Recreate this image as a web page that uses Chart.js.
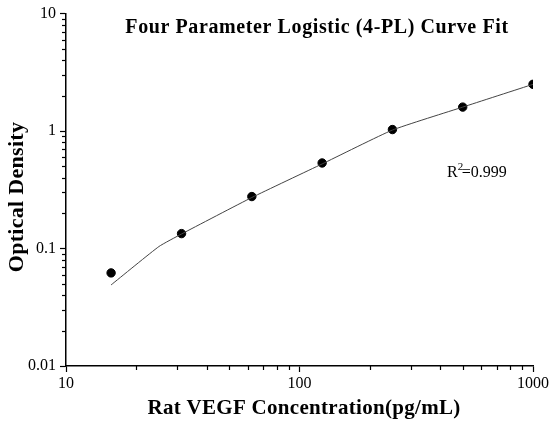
<!DOCTYPE html>
<html>
<head>
<meta charset="utf-8">
<script src="https://cdn.jsdelivr.net/npm/chart.js@4.4.1/dist/chart.umd.min.js"></script>
<style>
  html, body { margin: 0; padding: 0; background: #fff; }
  #wrap { width: 552px; height: 423px; }
</style>
</head>
<body>
<div id="wrap"><canvas id="myChart"></canvas></div>
<script>
// Standards (pg/mL) and measured OD
const concentrations = [15.6, 31.25, 62.5, 125, 250, 500, 1000];
const odValues = [0.062, 0.134, 0.277, 0.535, 1.03, 1.6, 2.5];

// Fitted 4-PL curve
const curveX = [15.6, 25, 31.25, 62.5, 125, 250, 500, 1000];
const curveY = [0.049, 0.104, 0.133, 0.272, 0.525, 1.02, 1.6, 2.5];

// Axis ranges and labelled ticks
const xTicks = [10, 100, 1000];
const yTicks = [0.01, 0.1, 1, 10];

const serif = '"Liberation Serif", "Times New Roman", serif';

// Minor ticks between decades (1..9 x 10^n)
function minorValues(min, max) {
    let out = [];
    for (let e = Math.floor(Math.log10(min)); e < Math.ceil(Math.log10(max)); e++) {
        for (let s = 2; s <= 9; s++) {
            let v = s * Math.pow(10, e);
            if (v > min && v < max) out.push(v);
        }
    }
    return out;
}

// Draw minor ticks, titles and R^2 text
const extras = {
    id: 'extras',
    afterDraw(chart) {
        const c = chart.ctx;
        const x = chart.scales.x, y = chart.scales.y;
        const area = chart.chartArea;
        c.save();
        c.strokeStyle = '#000';
        c.lineWidth = 1.2;
        minorValues(x.min, x.max).forEach(v => {
            let px = Math.round(x.getPixelForValue(v)) + 0.5;
            c.beginPath(); c.moveTo(px, area.bottom); c.lineTo(px, area.bottom + 4); c.stroke();
        });
        minorValues(y.min, y.max).forEach(v => {
            let py = Math.round(y.getPixelForValue(v)) + 0.5;
            c.beginPath(); c.moveTo(area.left, py); c.lineTo(area.left - 4, py); c.stroke();
        });

        c.fillStyle = '#000';
        c.textAlign = 'center';
        c.textBaseline = 'middle';

        // chart title
        c.font = 'bold 20px ' + serif;
        c.letterSpacing = '0.6px';
        c.fillText('Four Parameter Logistic (4-PL) Curve Fit', 317, 28);

        // x axis title
        c.font = 'bold 21px ' + serif;
        c.letterSpacing = '0.3px';
        c.fillText('Rat VEGF Concentration(pg/mL)', 304, 409);

        // y axis title
        c.save();
        c.translate(17, 197);
        c.rotate(-Math.PI / 2);
        c.font = 'bold 22px ' + serif;
        c.letterSpacing = '0.3px';
        c.fillText('Optical Density', 0, 0);
        c.restore();
        c.letterSpacing = '0px';

        // R^2
        c.textAlign = 'left';
        c.textBaseline = 'alphabetic';
        c.font = '16px ' + serif;
        let rx = 447, ry = 177;
        c.fillText('R', rx, ry);
        let w = c.measureText('R').width;
        c.font = '11px ' + serif;
        c.fillText('2', rx + w, ry - 7);
        c.font = '16px ' + serif;
        c.fillText('=0.999', rx + w + 4, ry);
        c.restore();
    }
};

const ctx = document.getElementById('myChart').getContext('2d');
const myChart = new Chart(ctx, {
    type: 'scatter',
    data: {
        datasets: [
            {
                label: 'curve',
                data: curveX.map((v, i) => ({ x: v, y: curveY[i] })),
                showLine: true,
                borderColor: '#444',
                borderWidth: 1,
                pointRadius: 0,
                tension: 0.15
            },
            {
                label: 'standards',
                data: concentrations.map((v, i) => ({ x: v, y: odValues[i] })),
                backgroundColor: '#000',
                borderColor: '#000',
                pointRadius: 4.2,
                pointHoverRadius: 4.2
            }
        ]
    },
    options: {
        responsive: true,
        maintainAspectRatio: false,
        animation: false,
        layout: { padding: { top: 12, right: 19, left: 0, bottom: 0 } },
        plugins: {
            legend: { display: false },
            tooltip: { enabled: false }
        },
        scales: {
            x: {
                type: 'logarithmic',
                min: 10,
                max: 1000,
                afterBuildTicks: s => { s.ticks = xTicks.map(v => ({ value: v })); },
                afterFit: s => { s.height = 57; },
                grid: { drawOnChartArea: false, tickLength: 6, color: '#000', tickWidth: 1.2 },
                border: { color: '#000', width: 1.5 },
                ticks: {
                    color: '#000',
                    font: { family: serif, size: 16 },
                    padding: 2,
                    maxRotation: 0,
                    callback: v => String(v)
                }
            },
            y: {
                type: 'logarithmic',
                min: 0.01,
                max: 10,
                afterBuildTicks: s => { s.ticks = yTicks.map(v => ({ value: v })); },
                afterFit: s => { s.width = 66; },
                grid: { drawOnChartArea: false, tickLength: 6, color: '#000', tickWidth: 1.2 },
                border: { color: '#000', width: 1.5 },
                ticks: {
                    color: '#000',
                    font: { family: serif, size: 16 },
                    padding: 4,
                    callback: v => String(v)
                }
            }
        }
    },
    plugins: [extras]
});
</script>
</body>
</html>
